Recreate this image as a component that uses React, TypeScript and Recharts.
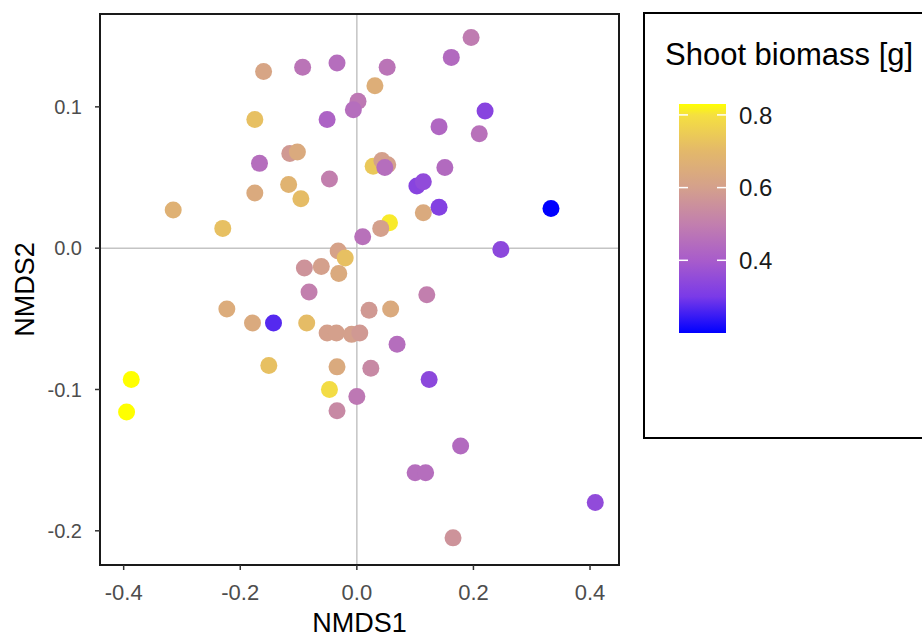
import React from "react";
import {
  CartesianGrid,
  ReferenceArea,
  Scatter,
  ScatterChart,
  XAxis,
  YAxis,
} from "recharts";

// NMDS scores
const nmds1 = [
  0.196, 0.162, -0.16, -0.093, -0.034, 0.052, 0.031, 0.002, -0.006, 0.22,
  -0.175, -0.051, 0.141, 0.21, -0.167, -0.115, -0.102, 0.028, 0.043, 0.053,
  0.048, 0.151, -0.047, -0.117, -0.175, -0.096, 0.103, 0.114, 0.141, 0.114,
  0.333, -0.315, -0.23, 0.056, 0.041, 0.01, 0.247, -0.032, -0.02, -0.031,
  -0.09, -0.061, -0.082, 0.12, -0.223, 0.021, 0.058, -0.179, -0.143, -0.086,
  -0.051, -0.035, -0.009, 0.005, 0.069, -0.151, -0.034, 0.024, 0.124, -0.387,
  -0.395, -0.047, 0.0, -0.034, 0.178, 0.1, 0.118, 0.409, 0.165,
];
const nmds2 = [
  0.149, 0.135, 0.125, 0.128, 0.131, 0.128, 0.115, 0.104, 0.098, 0.097,
  0.091, 0.091, 0.086, 0.081, 0.06, 0.067, 0.068, 0.058, 0.062, 0.059,
  0.057, 0.057, 0.049, 0.045, 0.039, 0.035, 0.044, 0.047, 0.029, 0.025,
  0.028, 0.027, 0.014, 0.018, 0.014, 0.008, -0.001, -0.002, -0.007, -0.018,
  -0.014, -0.013, -0.031, -0.033, -0.043, -0.044, -0.043, -0.053, -0.053, -0.053,
  -0.06, -0.06, -0.061, -0.06, -0.068, -0.083, -0.084, -0.085, -0.093, -0.093,
  -0.116, -0.1, -0.105, -0.115, -0.14, -0.159, -0.159, -0.18, -0.205,
];
// shoot biomass [g], estimated from the point colours
const biomass = [
  0.49, 0.44, 0.62, 0.47, 0.45, 0.47, 0.66, 0.48, 0.45, 0.33,
  0.72, 0.42, 0.43, 0.46, 0.45, 0.58, 0.64, 0.74, 0.6, 0.6,
  0.45, 0.44, 0.5, 0.68, 0.64, 0.71, 0.33, 0.35, 0.32, 0.64,
  0.2, 0.67, 0.72, 0.81, 0.6, 0.46, 0.34, 0.61, 0.72, 0.64,
  0.56, 0.6, 0.5, 0.5, 0.65, 0.58, 0.64, 0.64, 0.27, 0.71,
  0.6, 0.6, 0.6, 0.58, 0.45, 0.72, 0.64, 0.53, 0.34, 0.83,
  0.83, 0.79, 0.48, 0.53, 0.44, 0.45, 0.45, 0.35, 0.56,
];

const xTicks = [-0.4, -0.2, 0, 0.2, 0.4];
const yTicks = [-0.2, -0.1, 0, 0.1];
const legendTicks = [0.4, 0.6, 0.8];

const xDomain = [-0.4406, 0.4497];
const yDomain = [-0.2242, 0.1657];

// colour ramp of the biomass scale
const stops: [number, string][] = [
  [0.2, "#0000ff"],
  [0.3, "#7a3ae8"],
  [0.4, "#a85ccb"],
  [0.5, "#c27fae"],
  [0.6, "#d4a08c"],
  [0.7, "#e3b86a"],
  [0.8, "#f5e040"],
  [0.83, "#ffff00"],
];
const lo = 0.2;
const hi = 0.83;

const hex = (c: string) => [1, 3, 5].map((i) => parseInt(c.slice(i, i + 2), 16));
const colorFor = (v: number) => {
  if (v <= stops[0][0]) return stops[0][1];
  for (let i = 1; i < stops.length; i++) {
    if (v <= stops[i][0]) {
      const [v0, c0] = stops[i - 1];
      const [v1, c1] = stops[i];
      const t = (v - v0) / (v1 - v0);
      const a = hex(c0);
      const b = hex(c1);
      const m = a.map((x, k) => Math.round(x + (b[k] - x) * t));
      return `rgb(${m[0]},${m[1]},${m[2]})`;
    }
  }
  return stops[stops.length - 1][1];
};

const data = nmds1.map((x, i) => ({
  x,
  y: nmds2[i],
  biomass: biomass[i],
  fill: colorFor(biomass[i]),
}));

const font = "'Liberation Sans', Arial, sans-serif";

function ColorLegend() {
  const barX = 679;
  const barTop = 104;
  const barH = 229;
  const barW = 47;
  const yOf = (v: number) => barTop + ((hi - v) / (hi - lo)) * barH;
  return (
    <svg
      width={922}
      height={637}
      style={{ position: "absolute", left: 0, top: 0, pointerEvents: "none" }}
    >
      <defs>
        <linearGradient id="bio" x1="0" y1="1" x2="0" y2="0">
          {stops.map(([v, c]) => (
            <stop key={v} offset={(v - lo) / (hi - lo)} stopColor={c} />
          ))}
        </linearGradient>
      </defs>
      <rect x={644} y={13} width={300} height={425} fill="none" stroke="#000" strokeWidth={2} />
      <text x={665} y={65} fontSize={31} fontFamily={font} fill="#000">
        Shoot biomass [g]
      </text>
      <rect x={barX} y={barTop} width={barW} height={barH} fill="url(#bio)" />
      {legendTicks.map((v) => (
        <g key={v}>
          <line x1={barX} x2={barX + 9} y1={yOf(v)} y2={yOf(v)} stroke="#fff" strokeWidth={1.5} />
          <line x1={barX + barW - 9} x2={barX + barW} y1={yOf(v)} y2={yOf(v)} stroke="#fff" strokeWidth={1.5} />
          <text x={739} y={yOf(v)} dy="0.36em" fontSize={24} fontFamily={font} fill="#1a1a1a">
            {v.toFixed(1)}
          </text>
        </g>
      ))}
    </svg>
  );
}

export default function App() {
  return (
    <div style={{ position: "absolute", left: 0, top: 0, width: 922, height: 637, background: "#fff" }}>
      <ScatterChart
        width={922}
        height={637}
        margin={{ top: 14, right: 303, bottom: 0, left: 0 }}
        style={{ fontFamily: font }}
      >
        <CartesianGrid
          horizontal
          vertical
          horizontalValues={[0]}
          verticalValues={[0]}
          stroke="#c4c4c4"
          strokeWidth={1.5}
        />
        <XAxis
          type="number"
          dataKey="x"
          domain={xDomain}
          allowDataOverflow
          ticks={xTicks}
          tickFormatter={(v: number) => v.toFixed(1)}
          height={72}
          axisLine={false}
          tickSize={5}
          tickMargin={14}
          tickLine={{ stroke: "#333", strokeWidth: 1.5 }}
          tick={{ fill: "#4d4d4d", fontSize: 22 }}
          label={{
            content: ({ viewBox }: any) => (
              <text
                x={viewBox.x + viewBox.width / 2}
                y={viewBox.y + 67}
                textAnchor="middle"
                fontSize={27}
                fill="#000"
              >
                NMDS1
              </text>
            ),
          }}
        />
        <YAxis
          type="number"
          dataKey="y"
          domain={yDomain}
          allowDataOverflow
          ticks={yTicks}
          tickFormatter={(v: number) => v.toFixed(1)}
          width={100}
          axisLine={false}
          tickSize={5}
          tickMargin={13}
          tickLine={{ stroke: "#333", strokeWidth: 1.5 }}
          tick={{ fill: "#4d4d4d", fontSize: 20 }}
          label={{
            content: ({ viewBox }: any) => {
              const cx = viewBox.x + 24;
              const cy = viewBox.y + viewBox.height / 2;
              return (
                <text
                  x={cx}
                  y={cy}
                  dy="0.36em"
                  transform={`rotate(-90, ${cx}, ${cy})`}
                  textAnchor="middle"
                  fontSize={27}
                  fill="#000"
                >
                  NMDS2
                </text>
              );
            },
          }}
        />
        <Scatter
          data={data}
          isAnimationActive={false}
          shape={(p: any) => <circle cx={p.cx} cy={p.cy} r={8.5} fill={p.payload.fill} />}
        />
        <ReferenceArea
          x1={xDomain[0]}
          x2={xDomain[1]}
          y1={yDomain[0]}
          y2={yDomain[1]}
          fill="none"
          fillOpacity={0}
          stroke="#1a1a1a"
          strokeWidth={2}
        />
      </ScatterChart>
      <ColorLegend />
    </div>
  );
}
